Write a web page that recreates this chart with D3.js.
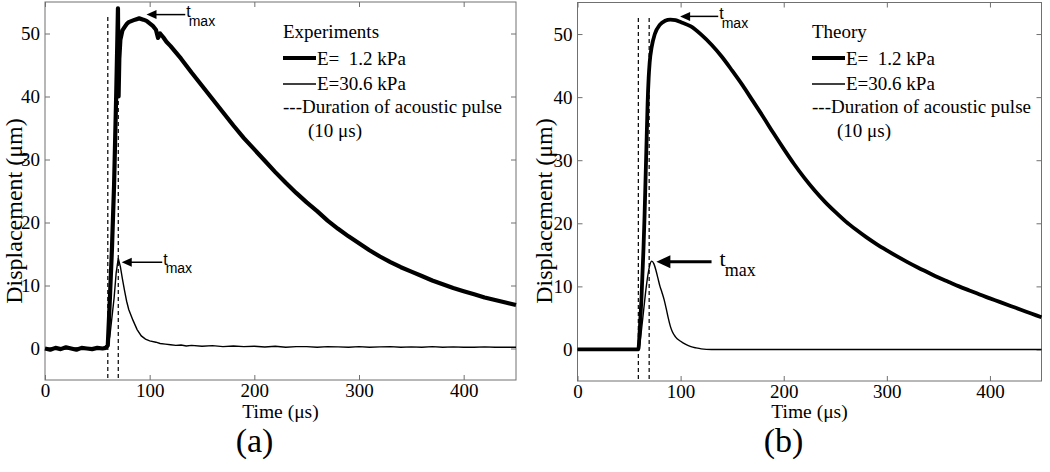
<!DOCTYPE html>
<html><head><meta charset="utf-8">
<script src="https://cdn.jsdelivr.net/npm/d3@7"></script>
</head><body style="margin:0">
<svg id="c" width="1050" height="472" font-family="Liberation Serif"></svg>
<script>
// ---------------- data ----------------
const xDomain = [0, 450];
const yDomain = [-5, 55];
const xTicks = [0, 100, 200, 300, 400];
const yTicks = [0, 10, 20, 30, 40, 50];
const xLabel = "Time (μs)";
const yLabel = "Displacement (μm)";
const panelLabels = ["(a)", "(b)"];
const legendTitles = ["Experiments", "Theory"];
const legendSeries = ["E=\u00a0\u00a01.2 kPa", "E=30.6 kPa"];
const legendPulse = ["---Duration of acoustic pulse", "(10 μs)"];
const pulseA = [60, 70];
const pulseB = [59, 69.5];
const pulseSpan = [-4.7, 53];

// Experiments, E = 1.2 kPa
const expSoftT = [0,5,10,15,20,25,30,35,40,45,50,55,58,60,62,64,66,68,69,69.7,70.3,71,72,74,76,78,80,83,86,90,94,97,100,103,106,108,110,113,116,120,125,130,140,150,160,170,180,190,200,210,220,230,240,250,260,270,280,290,300,310,320,330,340,350,360,370,380,390,400,410,420,430,440,450];
const expSoftV = [0,-0.2,0.1,-0.1,0.2,0,-0.2,0.1,0,-0.1,0.1,0,0.1,0.5,8,16,26,40,48,54,40,46,49,50.5,51,51.5,51.8,52,52.2,52.4,52.2,52,51.6,51.2,50.6,49.3,50,49.4,48.7,48,47,46,43.8,41.7,39.6,37.5,35.4,33.4,31.6,29.8,28,26.3,24.7,23.2,21.8,20.3,19,17.8,16.7,15.6,14.6,13.7,12.9,12.2,11.5,10.8,10.2,9.6,9.1,8.6,8.1,7.7,7.3,6.9];
// Experiments, E = 30.6 kPa
const expStiffT = [0,10,20,30,40,50,58,60,62,64,66,68,70,72,74,76,78,80,84,88,92,96,100,106,110,115,120,125,130,135,140,150,160,170,180,190,200,210,220,230,240,250,260,270,280,290,300,310,320,330,340,350,360,370,380,390,400,410,420,430,440,450];
const expStiffV = [0,0.1,-0.1,0.1,0,0.1,0,0.3,2,5,8,12,14.3,13,11,9.2,7.5,6.2,4.5,3,2,1.5,1.2,1.0,0.8,0.7,0.6,0.5,0.55,0.4,0.5,0.35,0.45,0.3,0.4,0.3,0.35,0.25,0.35,0.2,0.3,0.3,0.2,0.3,0.25,0.2,0.3,0.2,0.25,0.3,0.2,0.25,0.2,0.3,0.2,0.25,0.2,0.2,0.25,0.2,0.2,0.2];
// Theory, E = 1.2 kPa
const thSoftT = [0,59,60,61,62,63,64,65,66,67,68,69,70,72,75,80,85,90,95,100,110,120,130,140,150,160,170,180,190,200,210,220,230,240,250,260,270,280,290,300,310,320,330,340,350,360,370,380,390,400,410,420,430,440,450];
const thSoftV = [0,0,2,5,8,12,16,21,27,33,39,43,45.5,48,50,51.5,52.1,52.3,52.2,51.9,51.2,49.9,48.3,46.4,44.2,41.9,39.4,36.9,34.3,31.8,29.4,27.2,25.2,23.4,21.8,20.3,19.0,17.8,16.7,15.7,14.75,13.85,13.0,12.2,11.4,10.7,10.0,9.35,8.7,8.1,7.5,6.9,6.3,5.7,5.1];
// Theory, E = 30.6 kPa
const thStiffT = [0,59,60,62,64,66,68,70,72,74,76,78,80,82,84,86,88,90,92,95,100,105,110,115,120,130,450];
const thStiffV = [0,0,0.5,3,6,9,11.5,13.3,14,13.6,12.6,11.3,10,9,7.9,6.5,5,3.7,2.8,2,1.3,0.8,0.45,0.25,0.1,0,0];

// annotation anchors (data coords): [tipT, tipV, tailT]
const tmaxA = [[97, 53, 134], [73.3, 13.7, 112]];
const tmaxB = [[99.5, 52.8, 136.5], [76.5, 13.9, 130]];

// ---------------- drawing ----------------
const SERIF = "Liberation Serif";
const SANS = "Liberation Sans";
const svg = d3.select("#c");
const zip = (a, b) => a.map((t, i) => [t, b[i]]);

const panels = [
  {x0:45, x1:516, y0:380, y1:2, label:panelLabels[0], title:legendTitles[0], lx:283, pulse:pulseA,
   soft:zip(expSoftT, expSoftV), stiff:zip(expStiffT, expStiffV), curve:d3.curveLinear, softW:4.2, tmax:tmaxA, ylx:22, serifLower:false},
  {x0:577.5, x1:1041.5, y0:381, y1:2.5, label:panelLabels[1], title:legendTitles[1], lx:812, pulse:pulseB,
   soft:zip(thSoftT, thSoftV), stiff:zip(thStiffT, thStiffV), curve:d3.curveMonotoneX, softW:3.8, tmax:tmaxB, ylx:552, serifLower:true}
];

function setFont(sel, fam, size) {
  sel.attr("font-family", fam).style("font-family", `"${fam}"`);
  if (size) sel.attr("font-size", size);
  return sel;
}
function txt(g, x, y, size, s, fam) {
  const t = g.append("text").attr("x", x).attr("y", y);
  setFont(t, fam || SERIF, size);
  return t.attr("fill", "#000").text(s);
}

function arrow(g, x1, y, x2, w, hl, hw) {
  g.append("line").attr("x1", x1 + hl * 0.8).attr("x2", x2).attr("y1", y).attr("y2", y)
    .attr("stroke", "#000").attr("stroke-width", w);
  g.append("path").attr("d", `M${x1},${y}L${x1+hl},${y-hw}L${x1+hl},${y+hw}Z`).attr("fill", "#000");
}

function tmaxLabel(g, x, y, fam, s1, s2, dx, dy) {
  const t = g.append("text").attr("x", x).attr("y", y).attr("fill", "#000");
  setFont(t, fam, s1);
  t.append("tspan").attr("font-size", s1).text("t");
  t.append("tspan").attr("font-size", s2).attr("dx", dx).attr("dy", dy).text("max");
}

panels.forEach(p => {
  const x = d3.scaleLinear().domain(xDomain).range([p.x0, p.x1]);
  const y = d3.scaleLinear().domain(yDomain).range([p.y0, p.y1]);
  const g = svg.append("g");

  // axes (inward ticks on all sides)
  const styleAxis = sel => {
    setFont(sel, SERIF, 19);
    sel.select(".domain").remove();
    sel.selectAll("line").attr("stroke", "#707070");
    setFont(sel.selectAll("text"), SERIF, 19).attr("fill", "#000");
  };
  g.append("g").attr("transform", `translate(0,${p.y0})`)
    .call(d3.axisBottom(x).tickValues(xTicks).tickSizeInner(-5).tickSizeOuter(0).tickPadding(4)).call(styleAxis);
  g.append("g").attr("transform", `translate(0,${p.y1})`)
    .call(d3.axisTop(x).tickValues(xTicks).tickSizeInner(-5).tickSizeOuter(0).tickFormat(() => "")).call(styleAxis);
  g.append("g").attr("transform", `translate(${p.x0},0)`)
    .call(d3.axisLeft(y).tickValues(yTicks).tickSizeInner(-5).tickSizeOuter(0).tickPadding(5)).call(styleAxis);
  g.append("g").attr("transform", `translate(${p.x1},0)`)
    .call(d3.axisRight(y).tickValues(yTicks).tickSizeInner(-5).tickSizeOuter(0).tickFormat(() => "")).call(styleAxis);

  g.append("rect").attr("x", p.x0).attr("y", p.y1).attr("width", p.x1 - p.x0).attr("height", p.y0 - p.y1)
    .attr("fill", "none").attr("stroke", "#707070").attr("stroke-width", 1);

  // pulse duration dashed lines
  p.pulse.forEach(t => {
    g.append("line").attr("x1", x(t)).attr("x2", x(t)).attr("y1", y(pulseSpan[0])).attr("y2", y(pulseSpan[1]))
      .attr("stroke", "#000").attr("stroke-width", 1.2).attr("stroke-dasharray", "4,3");
  });

  const line = d3.line().x(d => x(d[0])).y(d => y(d[1])).curve(p.curve);
  g.append("path").datum(p.stiff).attr("d", line).attr("fill", "none").attr("stroke", "#000").attr("stroke-width", 1.4);
  g.append("path").datum(p.soft).attr("d", line).attr("fill", "none").attr("stroke", "#000")
    .attr("stroke-width", p.softW).attr("stroke-linejoin", "round");

  // legend
  const lg = g.append("g");
  txt(lg, p.lx, 38, 19, p.title);
  lg.append("line").attr("x1", p.lx).attr("x2", p.lx + 33).attr("y1", 58).attr("y2", 58).attr("stroke", "#000").attr("stroke-width", 4);
  txt(lg, p.lx + 34, 64.5, 19, legendSeries[0]);
  lg.append("line").attr("x1", p.lx).attr("x2", p.lx + 33).attr("y1", 84).attr("y2", 84).attr("stroke", "#000").attr("stroke-width", 1.4);
  txt(lg, p.lx + 34, 90, 19, legendSeries[1]);
  txt(lg, p.lx, 113, 19, legendPulse[0]);
  txt(lg, p.lx + 25, 137, 19, legendPulse[1]);

  // t_max annotations
  const up = p.tmax[0], lo = p.tmax[1];
  arrow(g, x(up[0]), y(up[1]), x(up[2]), 1.5, 10, 4.5);
  tmaxLabel(g, x(up[2]) + 1, y(up[1]) + 2.5, SANS, 16, 14, -2, 9);
  if (!p.serifLower) {
    arrow(g, x(lo[0]), y(lo[1]), x(lo[2]), 1.5, 10, 4.5);
    tmaxLabel(g, x(lo[2]) + 1, y(lo[1]) + 2.5, SANS, 16, 14, -2, 8);
  } else {
    arrow(g, x(lo[0]), y(lo[1]), x(lo[2]), 3, 14, 6.5);
    tmaxLabel(g, x(lo[2]) + 8, y(lo[1]) + 4, SERIF, 22, 18, -1, 10);
  }

  // axis labels
  txt(g, (p.x0 + p.x1) / 2, 418, 19.5, xLabel).attr("text-anchor", "middle");
  const yl = g.append("text").attr("transform", `translate(${p.ylx},211) rotate(-90)`).attr("text-anchor", "middle").attr("fill", "#000");
  setFont(yl, SERIF, 24).text(yLabel);
  txt(g, (p.x0 + p.x1) / 2 - 26, 452, 34, p.label).attr("text-anchor", "middle");
});
</script>
</body></html>
